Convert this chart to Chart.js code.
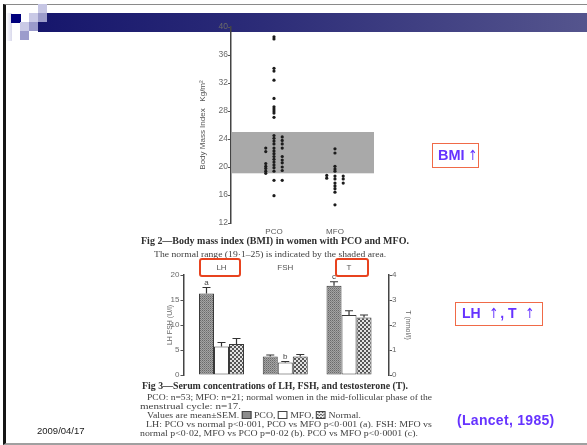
<!DOCTYPE html>
<html>
<head>
<meta charset="utf-8">
<script src="https://cdn.jsdelivr.net/npm/chart.js@4.4.1/dist/chart.umd.min.js"></script>
<style>
  html, body { margin: 0; padding: 0; background: #fff; }
  #slide { position: relative; width: 587px; height: 445px; overflow: hidden; background: #fff;
           font-family: "Liberation Sans", Arial, sans-serif; }
  .abs { position: absolute; }
  .sq { position: absolute; width: 9px; height: 9px; }
  #figure { position: absolute; left: 0; top: 0; width: 587px; height: 445px; filter: blur(0.3px); }
  .cap { position: absolute; white-space: nowrap; font-family: "Liberation Serif", "DejaVu Serif", serif;
         color: #404040; transform-origin: 0 50%; font-size: 9px; line-height: 10px; }
  .cap.bold { font-weight: bold; color: #2e2e2e; font-size: 9.5px; }
  .key { display: inline-block; width: 7px; height: 6px; border: 1px solid #444; vertical-align: -1px; }
  .redbox { position: absolute; box-sizing: border-box; border: 2px solid #e8431f; border-radius: 3px; }
  .note { position: absolute; box-sizing: border-box; border: 1.5px solid #f06a48; color: #6633ff;
          font-weight: bold; font-size: 14px; white-space: pre; }
  .arrow { font-family: "DejaVu Sans", sans-serif; font-weight: normal; font-size: 14px; display: inline-block; transform: scaleX(0.8); }
</style>
</head>
<body>
<div id="slide">
  <!-- slide frame and title band -->
  <div class="abs" style="left:3px;top:4px;width:590px;height:438px;border-left:3px solid #151515;border-top:1.5px solid #8a8a8a;border-bottom:2px solid #a0a0a0;"></div>
  <div class="abs" style="left:6px;top:13px;width:6px;height:28px;background:linear-gradient(to right,#ffffff,#d9d9ec);"></div>
  <div class="abs" style="left:38px;top:13px;width:560px;height:19px;background:linear-gradient(to right,#16166c,#2c2c78 40%,#56568e);"></div>
  <div class="sq" style="left:38px;top:4px;background:#c6c6e4;"></div>
  <div class="sq" style="left:11px;top:14px;width:10px;height:9px;background:#00007c;"></div>
  <div class="sq" style="left:29px;top:13px;background:#c9c9e6;"></div>
  <div class="sq" style="left:38px;top:13px;background:#9c9cca;"></div>
  <div class="sq" style="left:20px;top:22px;background:#cacae6;"></div>
  <div class="sq" style="left:29px;top:22px;background:#9a9acb;"></div>
  <div class="sq" style="left:20px;top:31px;background:#9c9ccc;"></div>

  <div id="figure">
    <canvas id="bmiChart" class="abs" style="left:160px;top:15px;" width="230" height="225"></canvas>
    <div class="cap bold" data-w="268" style="left:141px;top:235.5px;">Fig 2—Body mass index (BMI) in women with PCO and MFO.</div>
    <div class="cap" data-w="232" style="left:154px;top:248.5px;">The normal range (19·1–25) is indicated by the shaded area.</div>

    <canvas id="hormoneChart" class="abs" style="left:158px;top:252px;" width="262" height="130"></canvas>
    <div class="cap bold" data-w="266" style="left:142px;top:380.5px;">Fig 3—Serum concentrations of LH, FSH, and testosterone (T).</div>
    <div class="cap" data-w="285" style="left:147px;top:391.5px;">PCO: n=53; MFO: n=21; normal women in the mid-follicular phase of the</div>
    <div class="cap" data-w="101" style="left:140px;top:400.8px;">menstrual cycle: n=17.</div>
    <div class="cap" data-w="214" style="left:147px;top:410px;">Values are mean±SEM. <span class="key" style="background:#8c8c8c;"></span> PCO, <span class="key" style="background:#fff;"></span> MFO, <span class="key" style="background:repeating-conic-gradient(#555 0 25%,#e4e4e4 0 50%) 0 0/3px 3px;"></span> Normal.</div>
    <div class="cap" data-w="286" style="left:146px;top:418.8px;">LH: PCO vs normal p&lt;0·001, PCO vs MFO p&lt;0·001 (a). FSH: MFO vs</div>
    <div class="cap" data-w="278" style="left:140px;top:427.5px;">normal p&lt;0·02, MFO vs PCO p=0·02 (b). PCO vs MFO p&lt;0·0001 (c).</div>
  </div>

  <div class="redbox" style="left:199px;top:258px;width:42px;height:19px;"></div>
  <div class="redbox" style="left:335px;top:258px;width:34px;height:19px;"></div>

  <div class="note" style="left:432px;top:143px;width:47px;height:25px;padding-left:5px;line-height:22px;font-size:14.5px;">BMI<span class="arrow" style="margin-left:2px;">↑</span></div>
  <div class="note" style="left:455px;top:302px;width:88px;height:24px;padding-left:6px;line-height:21px;">LH  <span class="arrow">↑</span>, T  <span class="arrow">↑</span></div>
  <div class="abs" style="left:457px;top:412px;color:#6633ff;font-weight:bold;font-size:14px;letter-spacing:0.3px;line-height:17px;white-space:nowrap;">(Lancet, 1985)</div>
  <div class="abs" style="left:37px;top:425px;color:#1a1a1a;font-size:9.5px;line-height:12px;">2009/04/17</div>
</div>

<script>
// ---------- Fig 2: body mass index ----------
const bmiGroups = ['PCO', 'MFO'];
const bmiTicks = [12, 16, 20, 24, 28, 32, 36, 40];
const normalRange = [19.1, 25];

// Individual BMI values, split into the left / centre / right columns of each group
const pcoLeft  = [22.7, 22.2, 20.5, 20.1, 19.8, 19.4, 19.1];
const pcoMid   = [38.6, 38.3, 34.1, 33.7, 32.4, 29.8, 28.6, 28.3, 28.0, 27.7, 27.1,
                  24.5, 24.1, 23.7, 23.3, 22.7, 22.3, 21.9, 21.5, 21.1, 20.7, 20.3, 19.9, 19.4,
                  18.1, 15.9];
const pcoRight = [24.3, 23.8, 23.3, 22.7, 21.5, 21.0, 20.6, 20.0, 19.5, 18.1];
const mfoLeft  = [18.8, 18.4];
const mfoMid   = [22.6, 22.0, 20.1, 19.7, 19.4, 18.7, 18.3, 17.7, 17.3, 16.9, 16.4, 14.6];
const mfoRight = [18.7, 18.3, 17.7];

// ---------- Fig 3: serum hormones ----------
const hormones   = ['LH', 'FSH', 'T'];
const pcoMean    = [16.3, 3.7, 3.57];
const mfoMean    = [5.7, 2.5, 2.40];
const normalMean = [6.2, 3.7, 2.30];
const pcoSem     = [1.2, 0.3, 0.16];
const mfoSem     = [0.8, 0.2, 0.17];
const normalSem  = [1.1, 0.4, 0.10];
const pcoSig     = ['a', '', 'c'];
const mfoSig     = ['', 'b', ''];
const normalSig  = ['', '', ''];
const gonadTicks = [0, 5, 10, 15, 20];
const tTicks     = [0, 1, 2, 3, 4];

const SCAN_SANS = '"Liberation Sans", Arial, sans-serif';

// ---- BMI scatter ----
const COL_SHIFT = 0.135;
function column(groupIndex, side, values) {
  return values.map(v => ({ x: groupIndex + 1 + side * COL_SHIFT, y: v }));
}
const bmiPoints = [].concat(
  column(0, -1, pcoLeft), column(0, 0, pcoMid), column(0, 1, pcoRight),
  column(1, -1, mfoLeft), column(1, 0, mfoMid), column(1, 1, mfoRight)
);

const normalBand = {
  id: 'normalBand',
  beforeDatasetsDraw(chart) {
    const { ctx, chartArea: a, scales: { y } } = chart;
    const top = y.getPixelForValue(normalRange[1]);
    const bottom = y.getPixelForValue(normalRange[0]);
    ctx.save();
    ctx.fillStyle = '#a9a9a9';
    ctx.fillRect(a.left + 1, top, a.right - a.left - 1, bottom - top);
    ctx.restore();
  }
};

new Chart(document.getElementById('bmiChart'), {
  type: 'scatter',
  data: {
    datasets: [{
      data: bmiPoints,
      pointRadius: 1.6,
      pointBorderWidth: 0,
      backgroundColor: '#1c1c1c'
    }]
  },
  options: {
    responsive: false,
    animation: false,
    events: [],
    layout: { padding: { top: 12, right: 16, bottom: 0, left: 0 } },
    plugins: { legend: { display: false }, tooltip: { enabled: false } },
    scales: {
      x: {
        type: 'linear', min: 0.295, max: 2.64, offset: false,
        grid: { display: false, drawTicks: false },
        border: { display: false },
        afterBuildTicks: s => { s.ticks = bmiGroups.map((g, i) => ({ value: i + 1 })); },
        afterFit: s => { s.height = 17; },
        ticks: {
          callback: v => bmiGroups[Math.round(v) - 1],
          color: '#5a5a5a', font: { family: SCAN_SANS, size: 8 },
          padding: 4, autoSkip: false, maxRotation: 0
        }
      },
      y: {
        min: 12, max: 40,
        afterBuildTicks: s => { s.ticks = bmiTicks.map(v => ({ value: v })); },
        afterFit: s => { s.width = 71; },
        grid: { drawOnChartArea: false, tickLength: 3, color: '#555', lineWidth: 1 },
        border: { color: '#444', width: 1.5 },
        ticks: { color: '#6a6a6a', font: { family: SCAN_SANS, size: 8.5 }, padding: 0 },
        title: {
          display: true, text: 'Body Mass Index   Kg/m²',
          color: '#555', font: { family: SCAN_SANS, size: 8 },
          padding: { top: 38, bottom: 0 }
        }
      }
    }
  },
  plugins: [normalBand]
});

// ---- hormone bars ----
function tile(size, paint) {
  const c = document.createElement('canvas');
  c.width = size; c.height = size;
  const g = c.getContext('2d');
  paint(g);
  return g.createPattern(c, 'repeat');
}
const stipple = tile(2, g => {
  g.fillStyle = '#a4a4a4'; g.fillRect(0, 0, 2, 2);
  g.fillStyle = '#6a6a6a'; g.fillRect(0, 0, 1, 1);
  g.fillStyle = '#848484'; g.fillRect(1, 1, 1, 1);
});
const checker = tile(4, g => {
  g.fillStyle = '#565656'; g.fillRect(0, 0, 4, 4);
  g.fillStyle = '#e2e2e2'; g.fillRect(0, 0, 2, 2); g.fillRect(2, 2, 2, 2);
});

const groups = [
  { name: 'PCO',    mean: pcoMean,    sem: pcoSem,    sig: pcoSig,    fill: stipple },
  { name: 'MFO',    mean: mfoMean,    sem: mfoSem,    sig: mfoSig,    fill: '#ffffff' },
  { name: 'Normal', mean: normalMean, sem: normalSem, sig: normalSig, fill: checker }
];

// LH and FSH share the left axis (U/l); testosterone uses the right axis (nmol/l)
const barDatasets = [];
[['y', [0, 1]], ['y2', [2]]].forEach(([axis, idx]) => {
  groups.forEach(gr => {
    barDatasets.push({
      label: gr.name,
      stack: gr.name,
      yAxisID: axis,
      data: idx.map(i => ({ x: i + 1, y: gr.mean[i] })),
      sem: idx.map(i => gr.sem[i]),
      sig: idx.map(i => gr.sig[i]),
      backgroundColor: gr.fill,
      borderColor: '#3a3a3a',
      borderWidth: 1,
      borderSkipped: false,
      categoryPercentage: 0.706,
      barPercentage: 1.0
    });
  });
});

const errorBars = {
  id: 'errorBars',
  afterDatasetsDraw(chart) {
    const { ctx } = chart;
    ctx.save();
    ctx.strokeStyle = '#333';
    ctx.fillStyle = '#444';
    ctx.lineWidth = 1.2;
    ctx.font = '8px ' + SCAN_SANS;
    ctx.textAlign = 'center';
    ctx.textBaseline = 'bottom';
    chart.data.datasets.forEach((ds, di) => {
      const meta = chart.getDatasetMeta(di);
      const scale = chart.scales[ds.yAxisID];
      meta.data.forEach((bar, j) => {
        const top = scale.getPixelForValue(ds.data[j].y + ds.sem[j]);
        ctx.beginPath();
        ctx.moveTo(bar.x, bar.y);
        ctx.lineTo(bar.x, top);
        ctx.moveTo(bar.x - 4, top);
        ctx.lineTo(bar.x + 4, top);
        ctx.stroke();
        if (ds.sig[j]) ctx.fillText(ds.sig[j], bar.x, top - 1);
      });
    });
    ctx.restore();
  }
};

const axisCommon = {
  grid: { drawOnChartArea: false, tickLength: 3, color: '#555', lineWidth: 1 },
  border: { color: '#444', width: 1.5 }
};

new Chart(document.getElementById('hormoneChart'), {
  type: 'bar',
  data: { datasets: barDatasets },
  options: {
    responsive: false,
    animation: false,
    events: [],
    layout: { padding: { top: 0, right: 0, bottom: 7, left: 0 } },
    plugins: { legend: { display: false }, tooltip: { enabled: false } },
    scales: {
      x: {
        type: 'linear', position: 'top', min: 0.404, max: 3.627, offset: false,
        grid: { display: false, drawTicks: false, offset: false },
        border: { display: false },
        afterBuildTicks: s => { s.ticks = hormones.map((h, i) => ({ value: i + 1 })); },
        afterFit: s => { s.height = 23; },
        ticks: {
          callback: v => hormones[Math.round(v) - 1],
          color: '#555', font: { family: SCAN_SANS, size: 8 },
          padding: 2, autoSkip: false, maxRotation: 0
        }
      },
      y: Object.assign({}, axisCommon, {
        position: 'left', min: 0, max: 20,
        afterBuildTicks: s => { s.ticks = gonadTicks.map(v => ({ value: v })); },
        afterFit: s => { s.width = 25.5; },
        ticks: { color: '#6a6a6a', font: { family: SCAN_SANS, size: 8 }, padding: 1 },
        title: { display: true, text: 'LH FSH (U/l)', color: '#666',
                 font: { family: SCAN_SANS, size: 7 }, padding: { top: 8, bottom: 0 } }
      }),
      y2: Object.assign({}, axisCommon, {
        position: 'right', min: 0, max: 4,
        afterBuildTicks: s => { s.ticks = tTicks.map(v => ({ value: v })); },
        afterFit: s => { s.width = 31; },
        ticks: { color: '#6a6a6a', font: { family: SCAN_SANS, size: 8 }, padding: 0 },
        title: { display: true, text: 'T (nmol/l)', color: '#666',
                 font: { family: SCAN_SANS, size: 7 }, padding: { top: 8, bottom: 0 } }
      })
    }
  },
  plugins: [errorBars]
});

// Fit each caption line to its printed width
document.querySelectorAll('.cap[data-w]').forEach(el => {
  const w = parseFloat(el.dataset.w);
  const actual = el.getBoundingClientRect().width;
  if (actual > 0) el.style.transform = 'scaleX(' + (w / actual).toFixed(3) + ')';
});
</script>
</body>
</html>
